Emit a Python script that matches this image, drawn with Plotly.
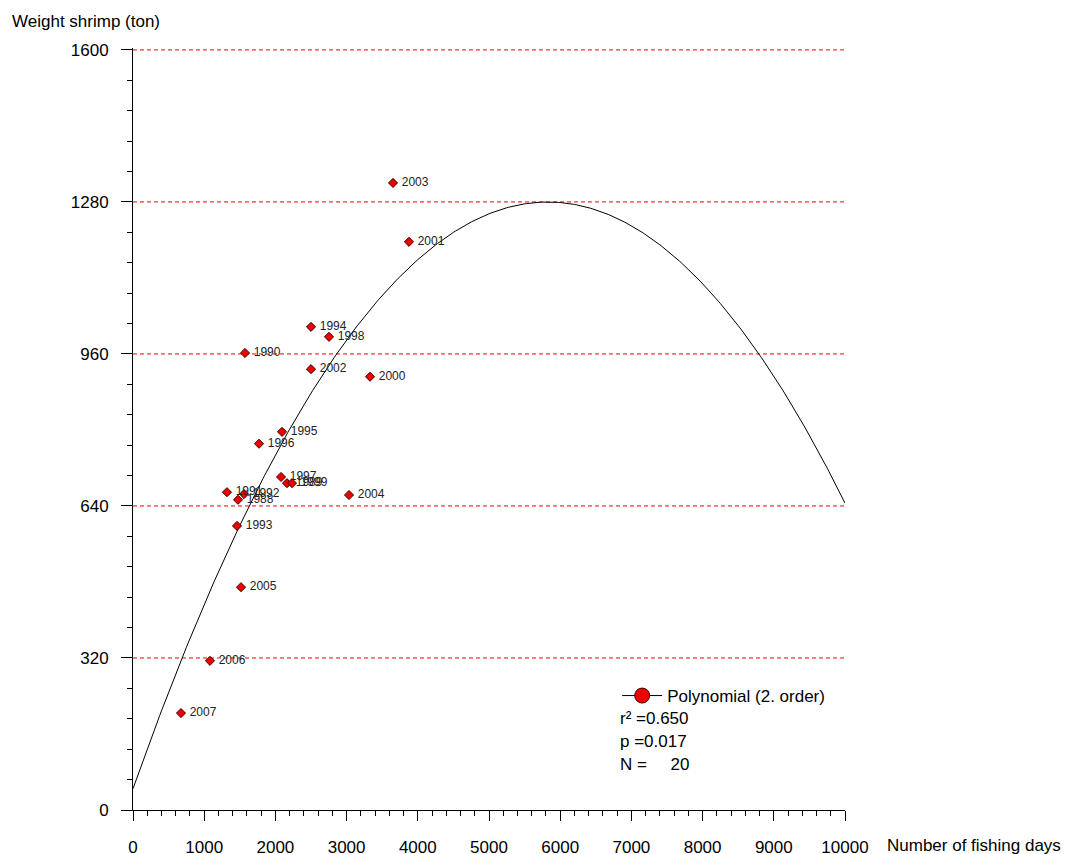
import numpy as np
import plotly.graph_objects as go

years = ["1988", "1989", "1990", "1991", "1992", "1993", "1994", "1995", "1996", "1997",
         "1998", "1999", "2000", "2001", "2002", "2003", "2004", "2005", "2006", "2007"]
fishing_days = [1475, 2163, 1573, 1320, 1559, 1461, 2500, 2093, 1770, 2079,
                2753, 2233, 3329, 3876, 2500, 3652, 3034, 1517, 1081, 674]
weight_ton = [653, 688, 962, 669, 665, 598, 1017, 796, 771, 701,
              996, 688, 912, 1196, 928, 1320, 663, 469, 314, 204]

# 2nd-order polynomial fit coefficients (a + b*x + c*x^2)
poly_coef = [45.0, 0.4239, -3.638e-5]
stats_lines = ["r² =0.650", "p =0.017", "N =     20"]
x_ticks = list(range(0, 10001, 1000))
y_ticks = [0, 320, 640, 960, 1280, 1600]

FONT = "Liberation Sans, Arial, sans-serif"

xs = np.linspace(0, 10000, 401)
ys = poly_coef[0] + poly_coef[1] * xs + poly_coef[2] * xs ** 2

fig = go.Figure()
fig.add_trace(go.Scatter(x=xs, y=ys, mode="lines", line=dict(color="black", width=1),
                         showlegend=False, hoverinfo="skip"))
fig.add_trace(go.Scatter(
    x=fishing_days, y=weight_ton, mode="markers+text", text=years,
    texttemplate=" %{text}",
    textposition="middle right", textfont=dict(family=FONT, size=12, color="#222"),
    marker=dict(symbol="diamond", size=7, color="#ee0000", line=dict(color="#400000", width=1)),
    showlegend=False))
fig.add_trace(go.Scatter(
    x=[None], y=[None], mode="lines+markers", name="Polynomial (2. order)",
    line=dict(color="black", width=1),
    marker=dict(symbol="circle", size=15, color="#ee0000", line=dict(color="#400000", width=1))))

# red dashed horizontal reference lines at the labelled y ticks (except the axis itself)
for v in y_ticks[1:]:
    fig.add_hline(y=v, line=dict(color="rgb(255,0,0)", width=1, dash="4px,3px"), layer="below")

PW, PH = 712, 762

fig.update_layout(
    template="none",
    width=1070, height=854,
    margin=dict(l=125, r=233, t=40, b=52, autoexpand=False),
    plot_bgcolor="white", paper_bgcolor="white",
    font=dict(family=FONT, size=17, color="black"),
    showlegend=True,
    legend=dict(x=0.680, y=(810 - 696) / PH, xanchor="left", yanchor="middle",
                bgcolor="rgba(0,0,0,0)", borderwidth=0,
                font=dict(family=FONT, size=17, color="black"), itemwidth=40),
    xaxis=dict(range=[0, 10000], tickvals=x_ticks, ticktext=[str(v) for v in x_ticks],
               showgrid=False, automargin=False,
               zeroline=False, showline=True, linecolor="black", linewidth=1,
               ticks="outside", ticklen=10, tickcolor="black", tickwidth=1,
               minor=dict(dtick=200, ticks="outside", ticklen=5, tickcolor="black", tickwidth=1,
                          showgrid=False),
               ticklabelstandoff=12, tickfont=dict(family=FONT, size=17, color="black")),
    yaxis=dict(range=[0, 1604], tickvals=y_ticks, ticktext=[str(v) for v in y_ticks],
               showgrid=False, automargin=False,
               zeroline=False, showline=True, linecolor="black", linewidth=1,
               ticks="outside", ticklen=11, tickcolor="black", tickwidth=1,
               minor=dict(dtick=64, ticks="outside", ticklen=5, tickcolor="black", tickwidth=1,
                          showgrid=False),
               ticklabelstandoff=9, tickfont=dict(family=FONT, size=17, color="black")),
    annotations=[
        dict(text="Weight shrimp (ton)", xref="paper", yref="paper", x=(10 - 133) / PW,
             y=(810 - 22) / PH, xanchor="left", yanchor="middle", showarrow=False,
             font=dict(family=FONT, size=17, color="black")),
        dict(text="Number of fishing days", xref="paper", yref="paper", x=(885 - 133) / PW,
             y=(810 - 845) / PH, xanchor="left", yanchor="middle", showarrow=False,
             font=dict(family=FONT, size=17, color="black")),
    ] + [
        dict(text=line, xref="paper", yref="paper", x=(618 - 133) / PW,
             y=(810 - (718 + 23 * i)) / PH, xanchor="left", yanchor="middle", showarrow=False,
             font=dict(family=FONT, size=17, color="black"))
        for i, line in enumerate(stats_lines)
    ],
)

fig.write_html("out.html")
